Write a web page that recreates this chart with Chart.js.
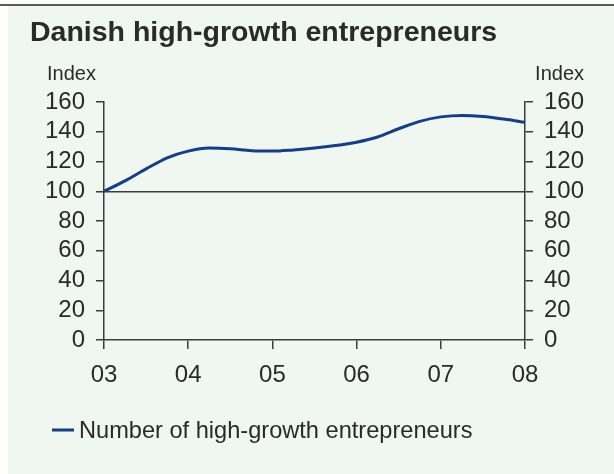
<!DOCTYPE html>
<html>
<head>
<meta charset="utf-8">
<script src="https://cdn.jsdelivr.net/npm/chart.js@4"></script>
<style>
  html, body { margin: 0; padding: 0; background: #ffffff; }
  #wrap { width: 614px; height: 474px; }
</style>
</head>
<body>
<div id="wrap"><canvas id="growthChart" width="614" height="474"></canvas></div>
<script>
// Data (quarterly points, index 2003 = 100)
const years = [2003.00, 2003.25, 2003.50, 2003.75, 2004.00, 2004.25, 2004.50, 2004.75,
               2005.00, 2005.25, 2005.50, 2005.75, 2006.00, 2006.25, 2006.50, 2006.75,
               2007.00, 2007.25, 2007.50, 2007.75, 2008.00];
const entrepreneurs = [100, 107, 115, 122.5, 127, 129, 128.5, 127.3,
                       127, 127.8, 129, 130.7, 133, 136.5, 142, 147,
                       150, 151, 150.3, 148.5, 146.3];
const tickYears = [2003, 2004, 2005, 2006, 2007, 2008];
const yTicks = [0, 20, 40, 60, 80, 100, 120, 140, 160];

const titleText = 'Danish high-growth entrepreneurs';
const unitText = 'Index';
const seriesLabel = 'Number of high-growth entrepreneurs';

const lineColor = '#123f87';
const axisColor = '#3c3c3c';
const textColor = '#2a2a2a';
const tickFont = { family: 'Liberation Sans', size: 24 };

// panel background + title, unit labels, legend
const decor = {
    id: 'decor',
    beforeDraw(chart) {
        const ctx = chart.ctx;
        ctx.save();
        ctx.fillStyle = '#ffffff';
        ctx.fillRect(0, 0, chart.width, chart.height);
        ctx.fillStyle = '#f0f6f0';
        ctx.fillRect(8, 6, chart.width - 8, chart.height - 6);
        ctx.fillStyle = '#5a5a5a';
        ctx.fillRect(0, 4, chart.width, 2);
        ctx.restore();
    },
    afterDraw(chart) {
        const ctx = chart.ctx;
        ctx.save();
        ctx.fillStyle = textColor;
        ctx.textBaseline = 'alphabetic';
        ctx.font = 'bold 28.5px "Liberation Sans", sans-serif';
        ctx.textAlign = 'left';
        ctx.fillText(titleText, 30, 41);

        ctx.font = '20px "Liberation Sans", sans-serif';
        ctx.fillText(unitText, 47, 80);
        ctx.textAlign = 'right';
        ctx.fillText(unitText, 584, 80);

        // legend
        const ds = chart.data.datasets[0];
        ctx.strokeStyle = ds.borderColor;
        ctx.lineWidth = 3;
        ctx.beginPath();
        ctx.moveTo(52, 430);
        ctx.lineTo(74, 430);
        ctx.stroke();
        ctx.textAlign = 'left';
        ctx.font = '23.6px "Liberation Sans", sans-serif';
        ctx.fillText(ds.label, 79, 438);
        ctx.restore();
    }
};

const yAxisBase = {
    type: 'linear',
    min: 0,
    max: 160,
    afterBuildTicks(scale) { scale.ticks = yTicks.map(v => ({ value: v })); },
    border: { display: true, color: axisColor, width: 1.5 },
    ticks: { color: textColor, font: tickFont, padding: 11, autoSkip: false }
};

new Chart(document.getElementById('growthChart').getContext('2d'), {
    type: 'line',
    data: {
        datasets: [{
            label: seriesLabel,
            data: years.map((x, i) => ({ x: x, y: entrepreneurs[i] })),
            borderColor: lineColor,
            borderWidth: 3,
            pointRadius: 0,
            cubicInterpolationMode: 'monotone',
            fill: false,
            yAxisID: 'y'
        }]
    },
    plugins: [decor],
    options: {
        responsive: false,
        animation: false,
        layout: { padding: { top: 102, left: 0, right: 0, bottom: 0 } },
        plugins: {
            legend: { display: false },
            tooltip: { enabled: false }
        },
        scales: {
            x: {
                type: 'linear',
                min: 2003,
                max: 2008,
                afterBuildTicks(scale) { scale.ticks = tickYears.map(v => ({ value: v })); },
                afterFit(scale) { scale.height = 134; },
                border: { display: true, color: axisColor, width: 1.5 },
                grid: { drawOnChartArea: false, tickLength: 9, tickColor: axisColor, lineWidth: 1.5 },
                ticks: {
                    color: textColor,
                    font: tickFont,
                    padding: 12,
                    maxRotation: 0,
                    autoSkip: false,
                    callback: v => String(v).slice(2)
                }
            },
            y: Object.assign({}, yAxisBase, {
                position: 'left',
                afterFit(scale) { scale.width = 104; },
                grid: {
                    drawOnChartArea: true,
                    color: c => (c.tick && c.tick.value === 100) ? axisColor : 'rgba(0,0,0,0)',
                    lineWidth: 1.5,
                    tickColor: axisColor,
                    tickLength: 8
                }
            }),
            y2: Object.assign({}, yAxisBase, {
                position: 'right',
                display: true,
                afterFit(scale) { scale.width = 89; },
                grid: { drawOnChartArea: false, tickColor: axisColor, tickLength: 8, lineWidth: 1.5 }
            })
        }
    }
});
</script>
</body>
</html>
